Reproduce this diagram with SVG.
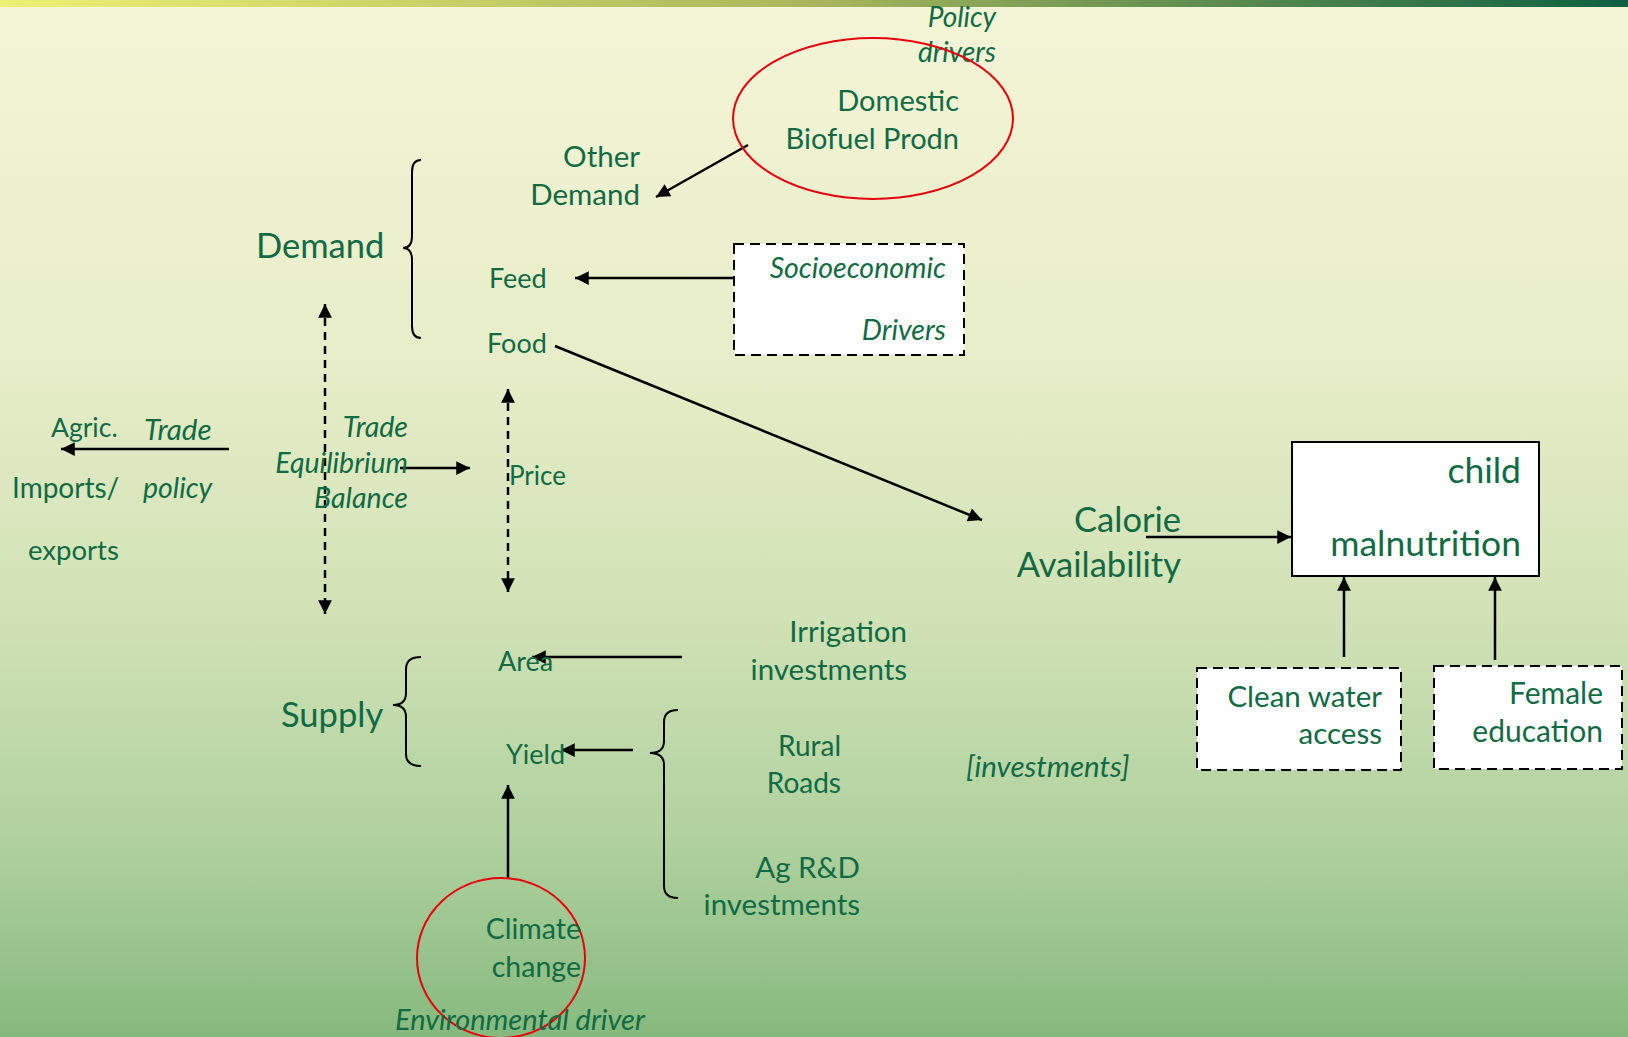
<svg xmlns="http://www.w3.org/2000/svg" width="1628" height="1037" viewBox="0 0 1628 1037">
<defs>
<linearGradient id="bg" x1="0" y1="0" x2="0" y2="1">
<stop offset="0" stop-color="#f5f5d7"/>
<stop offset="0.35" stop-color="#e7edc8"/>
<stop offset="0.6" stop-color="#d0e1b5"/>
<stop offset="0.8" stop-color="#b2d2a0"/>
<stop offset="1" stop-color="#86b97e"/>
</linearGradient>
<linearGradient id="bar" x1="0" y1="0" x2="1" y2="0">
<stop offset="0" stop-color="#ecf074"/>
<stop offset="0.5" stop-color="#a9b65c"/>
<stop offset="1" stop-color="#0e6042"/>
</linearGradient>
<marker id="ah" viewBox="0 0 10 10" refX="10" refY="5" markerWidth="6" markerHeight="5.5" orient="auto-start-reverse" markerUnits="strokeWidth">
<path d="M0,0 L10,5 L0,10 Z" fill="#000"/>
</marker>
<style>
text{font-family:Lato,"Open Sans","Liberation Sans",sans-serif;fill:#106b45}
.i{font-style:italic}
.e{text-anchor:end}
.ln{stroke:#000;stroke-width:2.5;fill:none}
.dl{stroke:#000;stroke-width:2.5;fill:none;stroke-dasharray:8 6}
.db{fill:#fff;stroke:#000;stroke-width:2;stroke-dasharray:10 6}
.br{stroke:#000;stroke-width:2;fill:none}
.red{fill:none;stroke:#e8000b;stroke-width:2}
</style>
</defs>
<rect x="0" y="0" width="1628" height="1037" fill="url(#bg)"/>
<rect x="0" y="0" width="1628" height="7" fill="url(#bar)"/>

<g id="connectors">
<line class="ln" x1="748" y1="145" x2="656" y2="197" marker-end="url(#ah)"/>
<line class="ln" x1="734" y1="278" x2="575" y2="278" marker-end="url(#ah)"/>
<line class="ln" x1="555" y1="346" x2="982" y2="520" marker-end="url(#ah)"/>
<line class="dl" x1="325" y1="304" x2="325" y2="614" marker-start="url(#ah)" marker-end="url(#ah)"/>
<line class="dl" x1="508" y1="389" x2="508" y2="592" marker-start="url(#ah)" marker-end="url(#ah)"/>
<line class="ln" x1="229" y1="449" x2="61" y2="449" marker-end="url(#ah)"/>
<line class="ln" x1="400" y1="468" x2="470" y2="468" marker-end="url(#ah)"/>
<line class="ln" x1="1146" y1="537" x2="1291" y2="537" marker-end="url(#ah)"/>
<line class="ln" x1="1344" y1="657" x2="1344" y2="577" marker-end="url(#ah)"/>
<line class="ln" x1="1495" y1="660" x2="1495" y2="577" marker-end="url(#ah)"/>
<line class="ln" x1="682" y1="657" x2="532" y2="657" marker-end="url(#ah)"/>
<line class="ln" x1="633" y1="750" x2="561" y2="750" marker-end="url(#ah)"/>
<line class="ln" x1="508" y1="878" x2="508" y2="785" marker-end="url(#ah)"/>
<path class="br" d="M421,160 Q412,160 412,172 L412,236 Q412,248 403,248 Q412,248 412,260 L412,326 Q412,338 421,338"/>
<path class="br" d="M421,657 Q406,657 406,669 L406,693 Q406,705 393,705 Q406,705 406,717 L406,754 Q406,766 421,766"/>
<path class="br" d="M678,710 Q664,710 664,722 L664,741 Q664,753 650,753 Q664,753 664,765 L664,886 Q664,898 678,898"/>
</g>

<g id="policy">
<text class="i e" x="996" y="27" font-size="28">Policy</text>
<text class="i e" x="996" y="62" font-size="28">drivers</text>
</g>
<g id="biofuel">
<ellipse class="red" cx="873" cy="118.5" rx="140" ry="80.5"/>
<text class="e" x="959" y="111" font-size="29">Domestic</text>
<text class="e" x="959" y="149" font-size="29">Biofuel Prodn</text>
</g>
<g id="other-demand">
<text class="e" x="640" y="167" font-size="29.5">Other</text>
<text class="e" x="640" y="205" font-size="29.5">Demand</text>
</g>
<g id="demand">
<text x="256" y="258" font-size="34.5">Demand</text>
</g>
<g id="feed"><text x="489" y="288" font-size="27">Feed</text></g>
<g id="food"><text x="487" y="353" font-size="27">Food</text></g>
<g id="socio">
<rect class="db" x="734" y="244" width="230" height="111"/>
<text class="i e" x="946" y="278" font-size="28.5">Socioeconomic</text>
<text class="i e" x="946" y="340" font-size="28.5">Drivers</text>
</g>
<g id="trade-left">
<text x="51" y="437" font-size="26.5">Agric.</text>
<text x="12" y="498" font-size="28">Imports/</text>
<text x="28" y="560" font-size="27.5">exports</text>
<text class="i" x="144" y="440" font-size="29.5">Trade</text>
<text class="i" x="143" y="498" font-size="28.5">policy</text>
</g>
<g id="equilibrium">
<text class="i e" x="408" y="437" font-size="28.5">Trade</text>
<text class="i e" x="408" y="473" font-size="28.5">Equilibrium</text>
<text class="i e" x="408" y="508" font-size="28.5">Balance</text>
</g>
<g id="price"><text x="509" y="485" font-size="26">Price</text></g>
<g id="calorie">
<text class="e" x="1181" y="532" font-size="34.5">Calorie</text>
<text class="e" x="1181" y="577" font-size="34.5">Availability</text>
</g>
<g id="malnutrition">
<rect x="1292" y="442" width="247" height="134" fill="#fff" stroke="#000" stroke-width="2"/>
<text class="e" x="1521" y="483" font-size="35.5">child</text>
<text class="e" x="1521" y="556" font-size="35.5">malnutrition</text>
</g>
<g id="water">
<rect class="db" x="1197" y="668" width="204" height="102"/>
<text class="e" x="1382" y="707" font-size="29.5">Clean water</text>
<text class="e" x="1382" y="744" font-size="29.5">access</text>
</g>
<g id="female">
<rect class="db" x="1434" y="666" width="188" height="103"/>
<text class="e" x="1603" y="704" font-size="30">Female</text>
<text class="e" x="1603" y="742" font-size="30">education</text>
</g>
<g id="area"><text x="498" y="671" font-size="27">Area</text></g>
<g id="irrigation">
<text class="e" x="907" y="642" font-size="29.5">Irrigation</text>
<text class="e" x="907" y="680" font-size="29.5">investments</text>
</g>
<g id="supply"><text x="281" y="727" font-size="34.5">Supply</text></g>
<g id="yield"><text x="506" y="764" font-size="27">Yield</text></g>
<g id="roads">
<text class="e" x="841" y="756" font-size="28">Rural</text>
<text class="e" x="841" y="793" font-size="28">Roads</text>
</g>
<g id="agrd">
<text class="e" x="860" y="878" font-size="29.5">Ag R&amp;D</text>
<text class="e" x="860" y="915" font-size="29.5">investments</text>
</g>
<g id="investments"><text class="i" x="966" y="777" font-size="29.5">[investments]</text></g>
<g id="climate">
<ellipse class="red" cx="501" cy="958" rx="84" ry="80"/>
<text class="e" x="581" y="939" font-size="28.5">Climate</text>
<text class="e" x="581" y="977" font-size="28.5">change</text>
<text class="i" x="395" y="1030" font-size="29">Environmental driver</text>
</g>
</svg>
